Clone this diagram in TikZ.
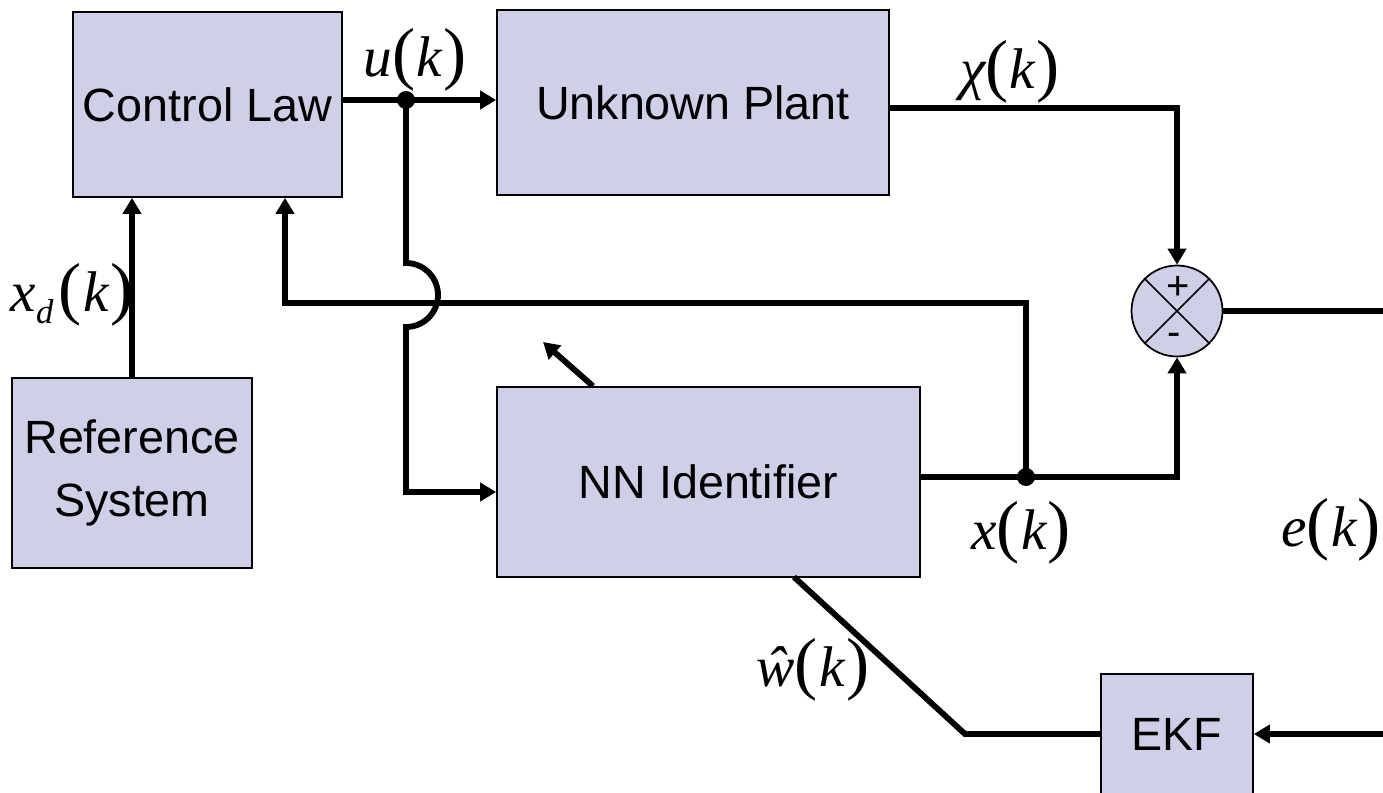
\documentclass[tikz,border=0pt]{standalone}
\usepackage{fontspec}
\setmainfont{Liberation Sans}
\newfontfamily\serf{Liberation Serif}
\usetikzlibrary{arrows.meta}
\definecolor{boxfill}{RGB}{207,207,231}
\newcommand{\lpar}{{\upshape\fontsize{52}{52}\selectfont(}}
\newcommand{\rpar}{{\upshape\fontsize{52}{52}\selectfont)}}
\newcommand{\mlab}[1]{{\serf\fontsize{43}{50}\selectfont\itshape #1\lpar\kern1pt k\kern1pt\rpar}}
\begin{document}
\begin{tikzpicture}[x=0.75pt,y=-0.75pt,
  blk/.style={draw=black,line width=1.3pt,fill=boxfill,inner sep=0pt,font=\fontsize{35}{47}\selectfont,align=center},
  wire/.style={line width=4.4pt},
  arr/.style={wire,-{Triangle[length=12pt,width=13.5pt]}},
  jdot/.style={circle,fill=black,inner sep=0pt,minimum size=13.5pt},
  lbl/.style={inner sep=0pt}
]
\useasboundingbox (0,0) rectangle (1383,792);
% blocks
\node[blk,minimum width=201.75pt,minimum height=138.75pt] (CL) at (207.5,104.5) {Control Law};
\node[blk,minimum width=294pt,minimum height=138.75pt] (UP) at (693,102.5) {Unknown Plant};
\node[blk,minimum width=180pt,minimum height=142.5pt] (RS) at (132,473) {Reference\\System};
\node[blk,minimum width=317.25pt,minimum height=142.5pt] (NN) at (708.5,482) {NN Identifier};
\node[blk,minimum width=114pt,minimum height=90pt] (EKF) at (1177,734) {EKF};
\node[circle,draw,line width=1.3pt,fill=boxfill,minimum size=68.25pt,inner sep=0pt] (S) at (1177,311) {};
\draw[line width=1.1pt] (S.north west) -- (S.south east) (S.north east) -- (S.south west);
\node[lbl,font=\fontsize{30}{30}\selectfont] (plus) at (1178,288) {+};
\node[lbl,font=\fontsize{30}{30}\selectfont] (minus) at (1174,339) {-};
% coordinates
\coordinate (uj) at (406,100);
\coordinate (nnin) at (406,492);
\coordinate (xj) at (1026,477);
\coordinate (fb) at (285,303);
\coordinate (chi) at (1000,108);
\coordinate (rc) at (1400,311);
\coordinate (wk) at (965,734);
\coordinate (wend) at (794,577);
\coordinate (ast) at (593,387);
\coordinate (atip) at (543,342);
% wires
\draw[arr] (CL.east |- uj) -- (UP.west |- uj);
\draw[arr] (uj) -- (406,263) arc[start angle=90,end angle=-90,radius=24pt] -- (nnin) -- (NN.west |- nnin);
\draw[arr] (xj) |- (fb) -- (fb |- CL.south);
\draw[arr] (RS.north) -- (RS.north |- CL.south);
\draw[arr] (UP.east |- chi) -| (S.north);
\draw[arr] (NN.east |- xj) -| (S.south);
\draw[arr] (S.east) -- (rc) |- (EKF.east);
\draw[wire] (EKF.west) -- (wk) -- (wend);
\draw[arr] (NN.north -| ast) -- (atip);
\node[jdot] (d1) at (uj) {};
\node[jdot] (d2) at (xj) {};
% labels
\node[lbl] (lu) at (415,60) {\mlab{u}};
\node[lbl] (lchi) at (1010,72) {\mlab{χ}};
\node[lbl] (lxd) at (72,295) {\mlab{x{\fontsize{26}{26}\selectfont\raisebox{-9pt}{d}}\kern4pt}};
\node[lbl] (lx) at (1021,533) {\mlab{x}};
\node[lbl] (le) at (1331,530) {\mlab{e}};
\node[lbl] (lw) at (813,670) {\mlab{ŵ}};
\end{tikzpicture}
\end{document}
